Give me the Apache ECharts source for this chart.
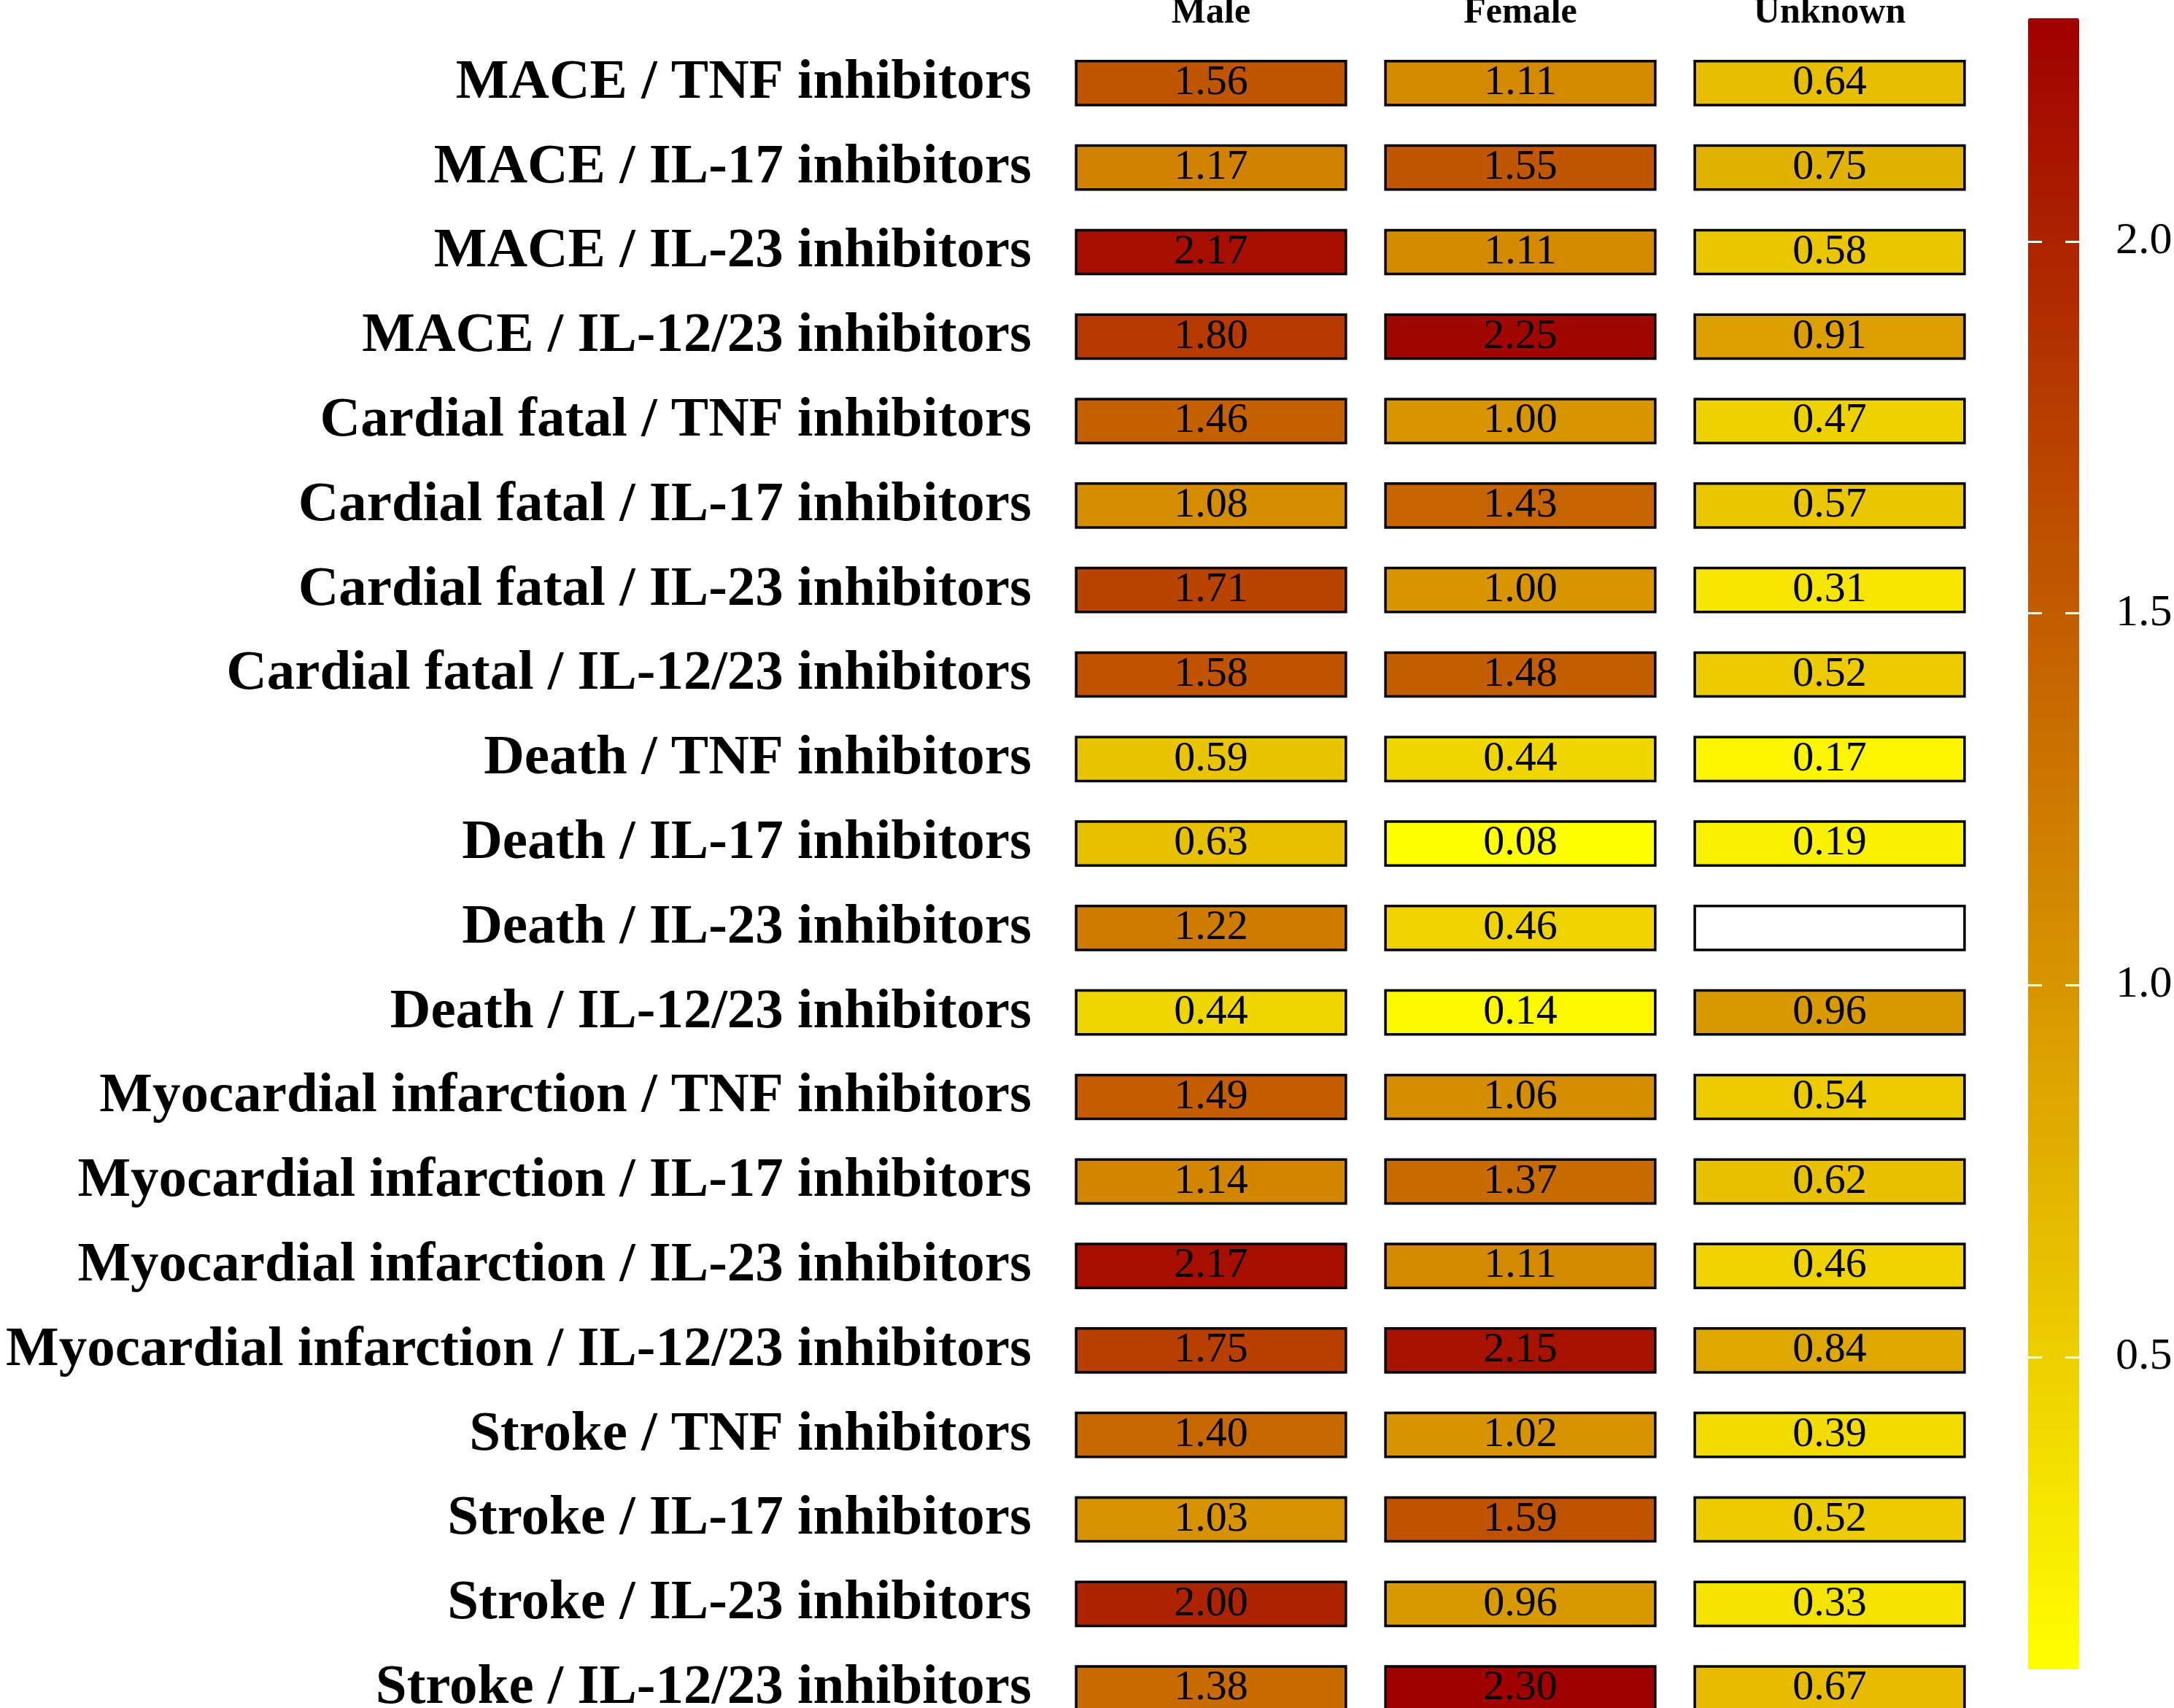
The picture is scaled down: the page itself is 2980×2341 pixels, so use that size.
<!DOCTYPE html>
<html>
<head>
<meta charset="utf-8">
<script src="https://cdn.jsdelivr.net/npm/echarts@6/dist/echarts.min.js"></script>
<style>
  html, body { margin: 0; padding: 0; background: #fff; }
  #chart { width: 2980px; height: 2341px; }
</style>
</head>
<body>
<div id="chart"></div>
<script>
const groups = ['Male', 'Female', 'Unknown'];

const rowLabels = [
  'MACE / TNF inhibitors',
  'MACE / IL-17 inhibitors',
  'MACE / IL-23 inhibitors',
  'MACE / IL-12/23 inhibitors',
  'Cardial fatal / TNF inhibitors',
  'Cardial fatal / IL-17 inhibitors',
  'Cardial fatal / IL-23 inhibitors',
  'Cardial fatal / IL-12/23 inhibitors',
  'Death / TNF inhibitors',
  'Death / IL-17 inhibitors',
  'Death / IL-23 inhibitors',
  'Death / IL-12/23 inhibitors',
  'Myocardial infarction / TNF inhibitors',
  'Myocardial infarction / IL-17 inhibitors',
  'Myocardial infarction / IL-23 inhibitors',
  'Myocardial infarction / IL-12/23 inhibitors',
  'Stroke / TNF inhibitors',
  'Stroke / IL-17 inhibitors',
  'Stroke / IL-23 inhibitors',
  'Stroke / IL-12/23 inhibitors'
];

const maleValues = [1.56, 1.17, 2.17, 1.80, 1.46, 1.08, 1.71, 1.58, 0.59, 0.63,
  1.22, 0.44, 1.49, 1.14, 2.17, 1.75, 1.40, 1.03, 2.00, 1.38];
const femaleValues = [1.11, 1.55, 1.11, 2.25, 1.00, 1.43, 1.00, 1.48, 0.44, 0.08,
  0.46, 0.14, 1.06, 1.37, 1.11, 2.15, 1.02, 1.59, 0.96, 2.30];
const unknownValues = [0.64, 0.75, 0.58, 0.91, 0.47, 0.57, 0.31, 0.52, 0.17, 0.19,
  null, 0.96, 0.54, 0.62, 0.46, 0.84, 0.39, 0.52, 0.33, 0.67];

const colorbarTicks = [0.5, 1.0, 1.5, 2.0];
const scaleMin = 0.08;
const scaleMax = 2.30;

const serif = '"Liberation Serif", "Times New Roman", serif';

// split cells into filled ones and missing ones
const filledCells = [];
const missingCells = [];
[maleValues, femaleValues, unknownValues].forEach(function (vals, col) {
  vals.forEach(function (v, row) {
    if (v === null) missingCells.push([col, row, 0]);
    else filledCells.push([col, row, v]);
  });
});

function drawCell(params, api, fill, withText) {
  const c = api.coord([api.value(0), api.value(1)]);
  const size = api.size([1, 1]);
  const w = size[0] * 0.872;
  const h = size[1] * 0.52;
  const children = [{
    type: 'rect',
    shape: { x: c[0] - w / 2, y: c[1] - h / 2, width: w, height: h },
    style: { fill: fill, stroke: '#000', lineWidth: 3.5 }
  }];
  if (withText) {
    children.push({
      type: 'text',
      x: c[0],
      y: c[1],
      style: {
        text: api.value(2).toFixed(2),
        fill: '#000',
        font: '58px ' + serif,
        align: 'center',
        verticalAlign: 'middle'
      }
    });
  }
  return { type: 'group', children: children };
}

const chart = echarts.init(document.getElementById('chart'));

chart.setOption({
  backgroundColor: '#fff',
  animation: false,
  grid: [
    { left: 1448, width: 1272, top: 56, height: 2316, outerBoundsMode: 'none' },
    { left: 2780, width: 70, top: 25, height: 2263, outerBoundsMode: 'none' }
  ],
  xAxis: [
    {
      type: 'category',
      data: groups,
      position: 'top',
      gridIndex: 0,
      axisLine: { show: false },
      axisTick: { show: false },
      axisLabel: {
        margin: 13,
        color: '#000',
        fontFamily: serif,
        fontWeight: 'bold',
        fontSize: 50
      }
    },
    { type: 'value', gridIndex: 1, show: false }
  ],
  yAxis: [
    {
      type: 'category',
      data: rowLabels,
      inverse: true,
      gridIndex: 0,
      axisLine: { show: false },
      axisTick: { show: false },
      axisLabel: {
        margin: 34,
        color: '#000',
        fontFamily: serif,
        fontWeight: 'bold',
        fontSize: 77
      }
    },
    {
      type: 'value',
      gridIndex: 1,
      position: 'left',
      min: scaleMin,
      max: scaleMax,
      z: 10,
      splitLine: { show: false },
      axisLine: { show: false },
      axisLabel: { show: false },
      axisTick: {
        inside: true,
        length: 19,
        customValues: colorbarTicks,
        lineStyle: { color: '#fff', width: 3 }
      }
    },
    {
      type: 'value',
      gridIndex: 1,
      position: 'right',
      min: scaleMin,
      max: scaleMax,
      z: 10,
      splitLine: { show: false },
      axisLine: { show: false },
      axisTick: {
        inside: true,
        length: 19,
        customValues: colorbarTicks,
        lineStyle: { color: '#fff', width: 3 }
      },
      axisLabel: {
        margin: 50,
        customValues: colorbarTicks,
        formatter: function (v) { return v.toFixed(1); },
        color: '#000',
        fontFamily: serif,
        fontSize: 62
      }
    }
  ],
  visualMap: {
    type: 'continuous',
    min: scaleMin,
    max: scaleMax,
    seriesIndex: 0,
    calculable: false,
    hoverLink: false,
    orient: 'vertical',
    left: 2780,
    top: 25,
    padding: 0,
    itemWidth: 70,
    itemHeight: 2263,
    text: null,
    showLabel: false,
    inRange: { color: ['#FFFF00', '#A00000'] }
  },
  series: [
    {
      type: 'custom',
      xAxisIndex: 0,
      yAxisIndex: 0,
      data: filledCells,
      renderItem: function (params, api) {
        return drawCell(params, api, api.visual('color'), true);
      }
    },
    {
      type: 'custom',
      xAxisIndex: 0,
      yAxisIndex: 0,
      data: missingCells,
      renderItem: function (params, api) {
        return drawCell(params, api, '#fff', false);
      }
    }
  ]
});
</script>
</body>
</html>
